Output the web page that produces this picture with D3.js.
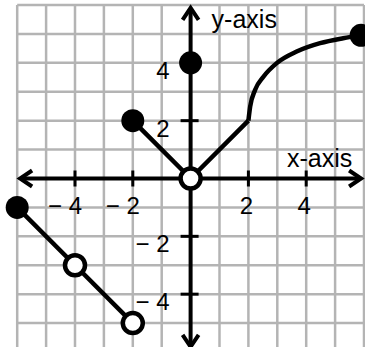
<!DOCTYPE html>
<html lang="en">
<head>
    <meta charset="utf-8">
    <script src="https://d3js.org/d3.v7.min.js"></script>
    <style>
        body { margin: 0; background: #fff; }
        text { font-family: "Liberation Sans", Arial, sans-serif; fill: #000; }
    </style>
</head>
<body>
<div id="chart"></div>
<script>
    // Values
    const xTicks = [-4, -2, 2, 4];
    const yTicks = [-4, -2, 2, 4];
    const segLeft = [[-6, -1], [-4, -3], [-2, -5]];
    const segMid = [[-2, 2], [0, 0], [2, 2]];
    const curvePts = [[2, 2], [2.06, 2.48], [2.23, 3.06], [2.52, 3.52], [2.98, 3.99],
        [3.67, 4.39], [4.48, 4.68], [5.28, 4.85], [5.9, 4.95]];
    const filledDots = [[-6, -1], [-2, 2], [0, 4], [5.9, 4.95]];
    const openDots = [[-4, -3], [-2, -5], [0, 0]];

    const W = 365, H = 347;

    const svg = d3.select("#chart")
        .append("svg")
        .attr("width", W)
        .attr("height", H);

    const x = d3.scaleLinear().domain([-6, 6]).range([17.2, 364]);
    const y = d3.scaleLinear().domain([-6, 6]).range([352, 5]);

    // grid
    const grid = svg.append("g").attr("stroke", "#b4b4b4").attr("stroke-width", 2.5);
    d3.range(-6, 7).forEach(v => {
        grid.append("line")
            .attr("x1", x(v)).attr("x2", x(v))
            .attr("y1", y(6)).attr("y2", y(-6));
        grid.append("line")
            .attr("x1", x(-6)).attr("x2", x(6))
            .attr("y1", y(v)).attr("y2", y(v));
    });

    // axes with open arrow heads
    const ax = svg.append("g").attr("stroke", "#000").attr("fill", "none")
        .attr("stroke-width", 4);
    ax.append("line")
        .attr("x1", x(-5.9)).attr("x2", x(5.9))
        .attr("y1", y(0)).attr("y2", y(0));
    ax.append("line")
        .attr("x1", x(0)).attr("x2", x(0))
        .attr("y1", y(5.9)).attr("y2", y(-5.82));
    const a = 12, b = 8;
    ax.append("path").attr("d", `M${x(-5.9) + a},${y(0) - b}L${x(-5.9)},${y(0)}L${x(-5.9) + a},${y(0) + b}`);
    ax.append("path").attr("d", `M${x(5.9) - a},${y(0) - b}L${x(5.9)},${y(0)}L${x(5.9) - a},${y(0) + b}`);
    ax.append("path").attr("d", `M${x(0) - b},${y(5.9) + a}L${x(0)},${y(5.9)}L${x(0) + b},${y(5.9) + a}`);
    ax.append("path").attr("d", `M${x(0) - b},${y(-5.82) - a}L${x(0)},${y(-5.82)}L${x(0) + b},${y(-5.82) - a}`);

    // ticks
    const tk = svg.append("g").attr("stroke", "#000").attr("stroke-width", 3);
    xTicks.forEach(v => {
        tk.append("line")
            .attr("x1", x(v)).attr("x2", x(v))
            .attr("y1", y(0) - 8).attr("y2", y(0) + 8);
    });
    yTicks.forEach(v => {
        tk.append("line")
            .attr("x1", x(0) - 10).attr("x2", x(0) + 8)
            .attr("y1", y(v)).attr("y2", y(v));
    });

    const fmt = v => v < 0 ? "\u2212 " + Math.abs(v) : String(v);

    // tick labels
    svg.append("g").selectAll("text")
        .data(xTicks)
        .join("text")
        .attr("x", d => d < 0 ? x(d) + 7 : x(d) - 2)
        .attr("y", y(0) + 35)
        .attr("text-anchor", d => d < 0 ? "end" : "middle")
        .attr("font-size", 24)
        .text(fmt);

    svg.append("g").selectAll("text")
        .data(yTicks)
        .join("text")
        .attr("x", x(0) - 21)
        .attr("y", d => y(d) + 16)
        .attr("text-anchor", "end")
        .attr("font-size", 24)
        .text(fmt);

    // axis titles
    svg.append("text")
        .attr("x", x(0) + 21).attr("y", 28)
        .attr("font-size", 25)
        .text("y-axis");
    svg.append("text")
        .attr("x", 287).attr("y", y(0) - 12)
        .attr("font-size", 25)
        .text("x-axis");

    // function pieces
    const line = d3.line().x(d => x(d[0])).y(d => y(d[1]));
    const curve = d3.line().x(d => x(d[0])).y(d => y(d[1])).curve(d3.curveMonotoneX);
    const pg = svg.append("g").attr("fill", "none").attr("stroke", "#000")
        .attr("stroke-width", 4.5).attr("stroke-linejoin", "round");
    pg.append("path").attr("d", line(segLeft));
    pg.append("path").attr("d", line(segMid));
    pg.append("path").attr("d", curve(curvePts));

    svg.append("g").selectAll("circle")
        .data(filledDots)
        .join("circle")
        .attr("cx", d => x(d[0])).attr("cy", d => y(d[1]))
        .attr("r", 11.5)
        .attr("fill", "#000");

    svg.append("g").selectAll("circle")
        .data(openDots)
        .join("circle")
        .attr("cx", d => x(d[0])).attr("cy", d => y(d[1]))
        .attr("r", 10)
        .attr("fill", "#fff")
        .attr("stroke", "#000")
        .attr("stroke-width", 4.5);
</script>
</body>
</html>
